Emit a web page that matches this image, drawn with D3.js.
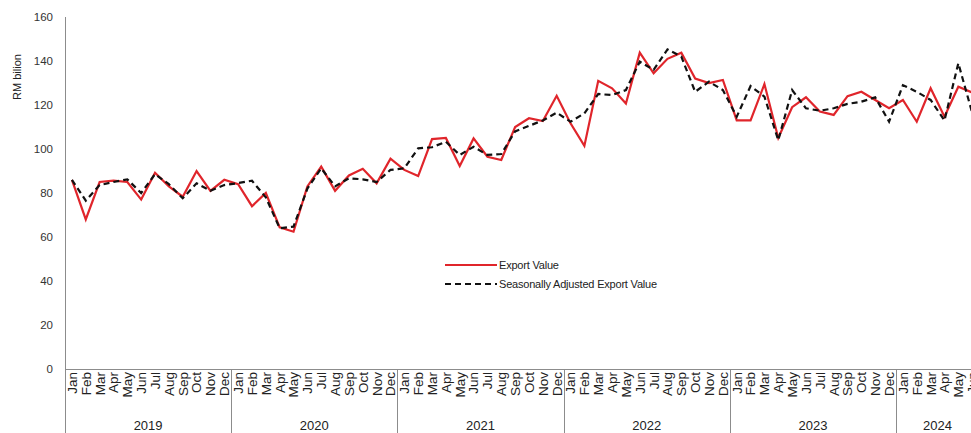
<!DOCTYPE html>
<html>
<head>
<meta charset="utf-8">
<script src="https://cdn.jsdelivr.net/npm/d3@7"></script>
<style>
  body { margin: 0; background: #fff; }
  svg { display: block; font-family: "Liberation Sans", Arial, sans-serif; }
  .axis-line { stroke: #8c8c8c; stroke-width: 1; fill: none; shape-rendering: crispEdges; }
  .tick-label { fill: #333; font-size: 11.5px; }
  .month-label { fill: #222; font-size: 13.5px; }
</style>
</head>
<body>
<script>
// years and months on the category axis
const years = ["2019", "2020", "2021", "2022", "2023", "2024"];
const monthNames = ["Jan","Feb","Mar","Apr","May","Jun","Jul","Aug","Sep","Oct","Nov","Dec"];
const monthsIn2024 = 6;

// RM billion
const exportValue = [
  86, 68, 85, 85.6, 85, 77, 89.2, 83, 78.3, 90, 81, 86,
  84, 74, 80, 64.4, 62.4, 83, 92, 81, 88, 91, 84.4, 95.6,
  90.5, 87.7, 104.5, 105, 92.3, 104.8, 96.5, 95, 110, 114, 112.7, 124.2,
  111.7, 101.4, 131, 127.6, 120.7, 143.8, 134.4, 141, 143.8, 132, 130, 131.4,
  113, 113, 129.5, 105, 119, 123.5, 117, 115.5, 124, 126, 122.3, 118.5,
  122.3, 112.4, 127.6, 114.7, 128.3, 125.7
];
const adjustedValue = [
  86, 76.5, 83.6, 85, 86.2, 80, 88.6, 84, 77.6, 84.4, 81, 83.6,
  84.5, 85.6, 78, 64, 64.7, 82, 91.2, 83, 86.7, 86.2, 85, 90.5,
  91.2, 100.3, 100.8, 103.3, 97.3, 101, 97.3, 97.7, 108, 110.5, 113, 116.5,
  112.4, 116.2, 125, 124.5, 126.8, 139.7, 136, 145.3, 142, 126, 130.6, 126.8,
  114.7, 128.6, 123.8, 104, 126.8, 118.5, 117.4, 118.5, 120.5, 121.5, 123.5, 112.4,
  129, 126, 122.3, 113, 139, 116.5
];
const yTicks = [0, 20, 40, 60, 80, 100, 120, 140, 160];

const W = 971, H = 433;
const margin = { left: 65, top: 17, axisY: 369 };
const monthWidth = 13.85;

// build category list
let cats = [];
years.forEach((yr, yi) => {
  const n = yi === years.length - 1 ? monthsIn2024 : 12;
  for (let m = 0; m < n; m++) cats.push({ key: yr + "-" + m, year: yr, month: monthNames[m] });
});

const svg = d3.select("body").append("svg")
  .attr("width", W)
  .attr("height", H);

const x = d3.scaleBand()
  .domain(cats.map(c => c.key))
  .range([margin.left, margin.left + cats.length * monthWidth])
  .padding(0);

const y = d3.scaleLinear()
  .domain([0, 160])
  .range([margin.axisY, margin.top]);

// y axis
const yAxis = svg.append("g")
  .attr("transform", `translate(${margin.left},0)`)
  .call(d3.axisLeft(y).tickValues(yTicks).tickSize(0).tickPadding(12));
yAxis.select(".domain").remove();
yAxis.selectAll("text").attr("class", "tick-label").attr("font-family", null).attr("font-size", null);

svg.append("line")
  .attr("class", "axis-line")
  .attr("x1", margin.left + 0.5).attr("x2", margin.left + 0.5)
  .attr("y1", margin.top).attr("y2", H);

svg.append("text")
  .attr("transform", `translate(21,77) rotate(-90)`)
  .attr("text-anchor", "middle")
  .attr("fill", "#222")
  .attr("font-size", "11px")
  .text("RM bilion");

// x axis
const xAxis = svg.append("g")
  .attr("transform", `translate(0,${margin.axisY})`)
  .call(d3.axisBottom(x).tickSize(0).tickFormat(k => cats.find(c => c.key === k).month));
xAxis.select(".domain").remove();
xAxis.selectAll("text")
  .attr("class", "month-label")
  .attr("font-family", null).attr("font-size", null).attr("fill", null)
  .attr("text-anchor", "end")
  .attr("transform", "rotate(-90)")
  .attr("x", -3)
  .attr("y", 0)
  .attr("dy", "0.36em");

svg.append("line")
  .attr("class", "axis-line")
  .attr("x1", margin.left).attr("x2", W)
  .attr("y1", margin.axisY + 0.5).attr("y2", margin.axisY + 0.5);

// year separators and labels
years.forEach(yr => {
  const ks = cats.filter(c => c.year === yr);
  const x0 = x(ks[0].key);
  const x1 = x(ks[ks.length - 1].key) + x.bandwidth();
  svg.append("line")
    .attr("class", "axis-line")
    .attr("x1", Math.round(x1) + 0.5).attr("x2", Math.round(x1) + 0.5)
    .attr("y1", margin.axisY).attr("y2", H);
  svg.append("text")
    .attr("x", (x0 + x1) / 2)
    .attr("y", 430)
    .attr("text-anchor", "middle")
    .attr("fill", "#222")
    .attr("font-size", "13px")
    .text(yr);
});

// lines
const line = d3.line()
  .x((d, i) => x(cats[i].key) + x.bandwidth() / 2)
  .y(d => y(d));

svg.append("path")
  .datum(exportValue)
  .attr("d", line)
  .attr("fill", "none")
  .attr("stroke", "#e0252b")
  .attr("stroke-width", 2.2)
  .attr("stroke-linejoin", "miter");

svg.append("path")
  .datum(adjustedValue)
  .attr("d", line)
  .attr("fill", "none")
  .attr("stroke", "#111")
  .attr("stroke-width", 2.2)
  .attr("stroke-dasharray", "6,4");

// legend
const legend = [
  { name: "Export Value", color: "#e0252b", dash: null, y: 265 },
  { name: "Seasonally Adjusted Export Value", color: "#111", dash: "6,4", y: 284 }
];
legend.forEach(l => {
  svg.append("line")
    .attr("x1", 445).attr("x2", 497)
    .attr("y1", l.y).attr("y2", l.y)
    .attr("stroke", l.color)
    .attr("stroke-width", 2.2)
    .attr("stroke-dasharray", l.dash);
  svg.append("text")
    .attr("x", 499)
    .attr("y", l.y)
    .attr("dy", "0.35em")
    .attr("fill", "#222")
    .attr("font-size", "11px")
    .attr("letter-spacing", "-0.2px")
    .text(l.name);
});
</script>
</body>
</html>
